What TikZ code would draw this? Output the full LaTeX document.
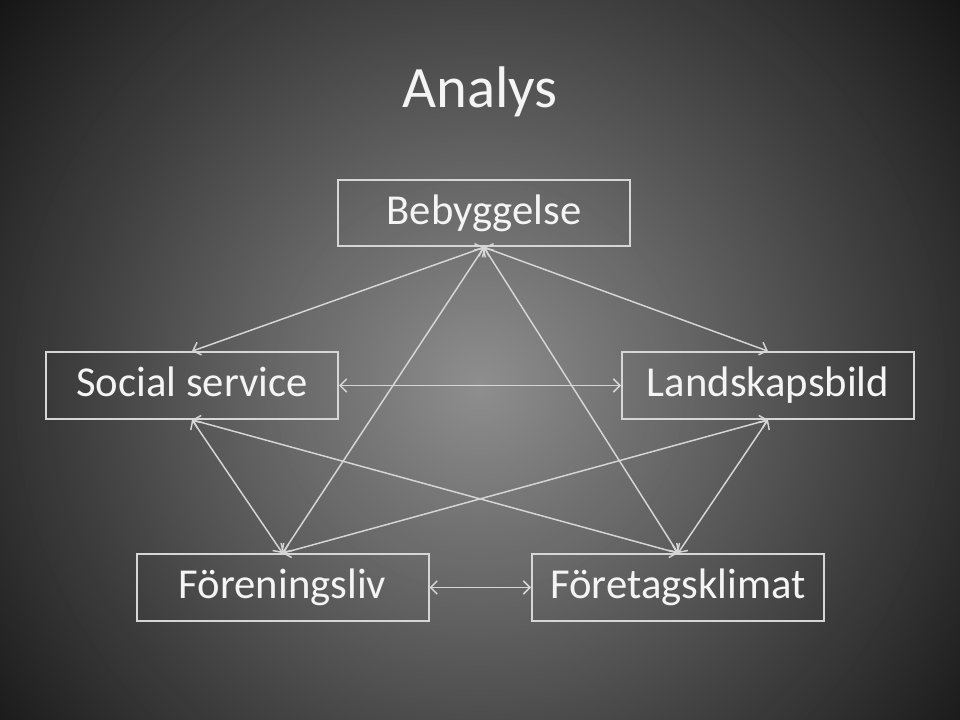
\documentclass[tikz,border=0pt]{standalone}
\usepackage{fontspec}
\setmainfont{Carlito}
\usetikzlibrary{arrows.meta}
\definecolor{boxline}{HTML}{D6D6D6}
\definecolor{txt}{HTML}{F4F4F4}
\tikzset{
  box/.style={draw=boxline, line width=1.5pt, minimum width=219pt, minimum height=50pt,
    inner sep=0pt, text=txt, font=\fontsize{32}{38}\selectfont,
    text height=25pt, text depth=8pt},
  link/.style={draw=boxline, line width=1.1pt,
    {Straight Barb[length=5pt,width=10pt]}-{Straight Barb[length=5pt,width=10pt]}},
}
\begin{document}
\begin{tikzpicture}[x=0.75pt,y=-0.75pt]
\useasboundingbox (0,0) rectangle (960,720);
\begin{scope}
\clip (0,0) rectangle (960,720);
\fill[black!94] (0,0) rectangle (960,720);
\foreach \r in {650,645,...,5} {
  \pgfmathsetmacro{\g}{56 - \r/13}
  \fill[white!\g!black] (480,385) circle[radius=\r];
}
\end{scope}
\node[text=txt, font=\fontsize{44}{52}\selectfont] (title) at (480,92) {Analys};
\node[box] (beb) at (484,213) {Bebyggelse};
\node[box] (soc) at (192,385.5) {Social service};
\node[box] (land) at (768,385.5) {Landskapsbild};
\node[box] (for) at (282.5,587.5) {Föreningsliv};
\node[box] (ftg) at (678,587.5) {Företagsklimat};
\draw[link] (beb.south) -- (soc.north);
\draw[link] (beb.south) -- (land.north);
\draw[link] (beb.south) -- (for.north);
\draw[link] (beb.south) -- (ftg.north);
\draw[link] (soc.east) -- (land.west);
\draw[link] (soc.south) -- (for.north);
\draw[link] (soc.south) -- (ftg.north);
\draw[link] (land.south) -- (for.north);
\draw[link] (land.south) -- (ftg.north);
\draw[link] (for.east) -- (ftg.west);
\end{tikzpicture}
\end{document}
